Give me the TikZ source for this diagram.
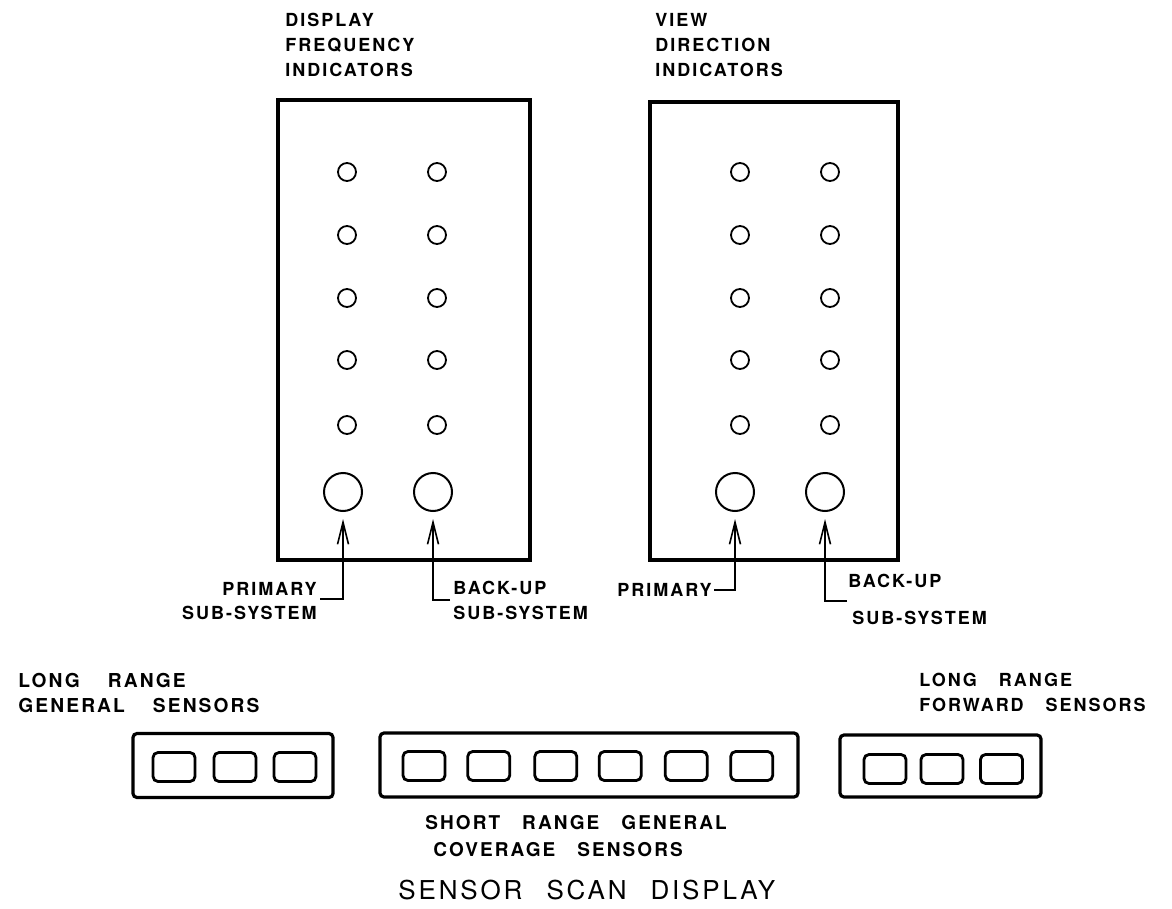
\documentclass[tikz,border=0pt]{standalone}
\usepackage{fontspec}
\setmainfont{TeX Gyre Heros}
\newfontfamily\lettering[LetterSpace=11]{TeX Gyre Heros}
\usetikzlibrary{arrows.meta}
\newcommand{\wgap}{\hspace{11pt}}

\begin{document}
\begin{tikzpicture}[x=0.5pt,y=-0.5pt,
    panel/.style={draw,line width=2.2pt,inner sep=0pt},
    lamp/.style={draw,circle,line width=0.9pt,minimum size=9pt,inner sep=0pt},
    biglamp/.style={draw,circle,line width=1pt,minimum size=19pt,inner sep=0pt},
    rack/.style={draw,line width=1.6pt,rounded corners=2pt,inner sep=0pt,minimum height=32pt},
    cell/.style={draw,line width=1.4pt,rounded corners=2.5pt,inner sep=0pt,minimum width=21pt,minimum height=14.5pt},
    lbl/.style={font=\lettering\bfseries\fontsize{9}{12.5}\selectfont,align=left,anchor=north west,inner sep=0pt},
    ptr/.style={line width=0.8pt,-{Straight Barb[length=11pt,width=5.5pt]},shorten >=3.5pt}]
      \useasboundingbox (0,0) rectangle (1172,909);

      % indicator panels
      \node (dfpanel) at (404,330) [panel,minimum width=126pt,minimum height=230pt] {};
      \node (vdpanel) at (774,331) [panel,minimum width=124pt,minimum height=229pt] {};

      \foreach \y [count=\i] in {172,235,298,360,425} {
        \node (dfa\i) at (347,\y) [lamp] {};
        \node (dfb\i) at (437,\y) [lamp] {};
        \node (vda\i) at (740,\y) [lamp] {};
        \node (vdb\i) at (830,\y) [lamp] {};
      }

      \node (dfpri) at (343,492) [biglamp] {};
      \node (dfbak) at (433,492) [biglamp] {};
      \node (vdpri) at (735,492) [biglamp] {};
      \node (vdbak) at (825,492) [biglamp] {};

      \node (dftitle) at (285,13) [lbl] {DISPLAY\\FREQUENCY\\INDICATORS};
      \node (vdtitle) at (655,13) [lbl] {VIEW\\DIRECTION\\INDICATORS};

      % sub-system callouts
      \node (dfprilbl) at (317,582) [lbl,align=right,anchor=north east] {PRIMARY\\[-0.5pt]SUB-SYSTEM\hspace{2pt}};
      \node (dfbaklbl) at (453,581) [lbl] {BACK-UP\\SUB-SYSTEM};
      \node (vdprilbl) at (712,583) [lbl,anchor=north east] {PRIMARY};
      \node (vdbaklbl) at (848,574) [lbl] {BACK-UP\\[6pt]\hspace{2pt}SUB-SYSTEM};

      \coordinate (dfprileg) at (320,599);
      \coordinate (dfbakleg) at (450,600);
      \coordinate (vdprileg) at (714,590);
      \coordinate (vdbakleg) at (847,601);

    \draw[ptr] (dfprileg) -| (dfpri);
    \draw[ptr] (dfbakleg) -| (dfbak);
    \draw[ptr] (vdprileg) -| (vdpri);
    \draw[ptr] (vdbakleg) -| (vdbak);

      % sensor scan display
      \node (lrgrack) at (233,765.5) [rack,minimum width=100pt] {};
      \node (srgrack) at (589,765) [rack,minimum width=209pt] {};
      \node (lrfrack) at (940.5,766) [rack,minimum width=100.5pt,minimum height=31pt] {};

      \foreach \x [count=\i] in {174,235,295}
        \node (lrg\i) at (\x,767) [cell] {};
      \foreach \x [count=\i] in {424,488.7,555.8,620.3,686.3,751.7}
        \node (srg\i) at (\x,766) [cell] {};
      \foreach \x [count=\i] in {885,942,1001.5}
        \node (lrf\i) at (\x,769) [cell] {};

      \node (lrglbl) at (18,673) [lbl,font=\lettering\bfseries\fontsize{9.6}{12.5}\selectfont] {LONG\hspace{14pt}RANGE\\GENERAL\hspace{14pt}SENSORS};
      \node (lrflbl) at (919,673) [lbl] {LONG\wgap RANGE\\FORWARD\wgap SENSORS};
      \node (srglbl) at (425,815) [lbl,font=\lettering\bfseries\fontsize{9.5}{13.5}\selectfont] {SHORT\wgap RANGE\wgap GENERAL\\\hspace{4pt}COVERAGE\wgap SENSORS};
      \node (ssdtitle) at (398,880) [lbl,font=\lettering\fontsize{13}{15}\selectfont] {SENSOR\hspace{12pt}SCAN\hspace{12pt}DISPLAY};
  \end{tikzpicture}
\end{document}
